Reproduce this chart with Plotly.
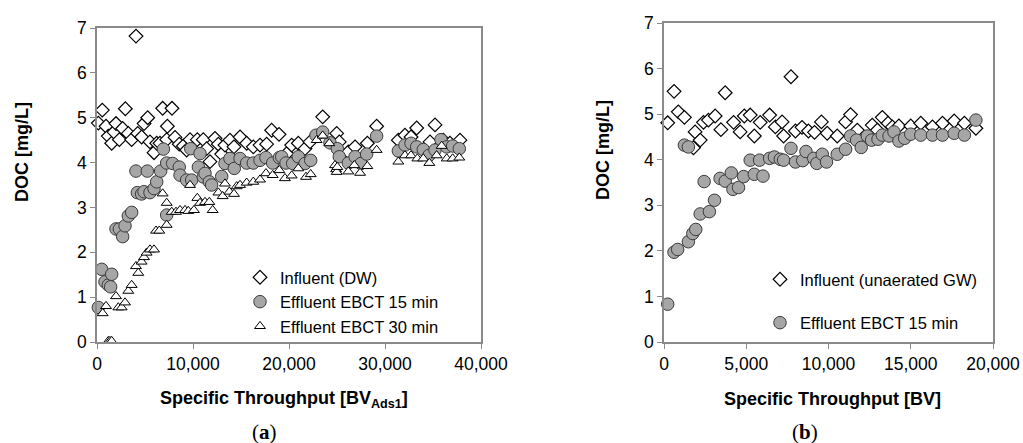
import plotly.graph_objects as go

W, H = 1023, 443

# ---------------- Panel (a) data ----------------
a_inf_x = [140, 550, 940, 1180, 1530, 1770, 1980, 2330, 2670, 2950, 3260, 3610, 4063, 4240, 4650,
           4900, 5280, 5520, 5940, 6220, 6560, 6840, 7260, 7330, 7810, 8130, 8570, 8990, 9340,
           9690, 10450, 11070, 11420, 11770, 12290, 12640, 12990, 13330, 13850, 14270, 14900,
           15590, 16280, 16980, 17670, 18190, 18960, 19760, 20280, 20970, 21670, 22190, 23510,
           24970, 25240, 26180, 26880, 28160, 29130, 31390, 32080, 32710, 33300, 34690, 35210,
           36080, 36770, 37810]
a_inf_y = [4.88, 5.17, 4.81, 4.59, 4.43, 4.68, 4.87, 4.51, 4.76, 5.2, 4.65, 4.51, 6.82, 4.65, 4.57,
           4.87, 5.0, 4.46, 4.22, 4.43, 4.43, 5.21, 4.51, 4.81, 5.21, 4.56, 4.41, 4.37, 4.28,
           4.51, 4.51, 4.51, 4.31, 4.02, 4.54, 4.41, 4.19, 4.39, 4.5, 4.35, 4.57,
           4.43, 4.35, 4.39, 4.41, 4.72, 4.63, 4.2, 4.39, 4.43, 4.31, 4.46, 5.02,
           4.65, 4.46, 4.24, 4.35, 4.43, 4.81, 4.5, 4.61, 4.57, 4.77, 4.46, 4.84,
           4.5, 4.43, 4.5]

a_e15_x = [140, 490, 830, 1180, 1420, 1530, 1980, 2330, 2670, 2920, 3260, 3610, 4060, 4200, 4650,
           4900, 5240, 5520, 5940, 6220, 6630, 6910, 7260, 7260, 7880, 8570, 8650, 9340, 9760,
           9860, 10560, 10730, 11070, 11250, 11700, 11940, 12990, 13330, 13850, 14300, 14900,
           15590, 16280, 16980, 17600, 18300, 18990, 19240, 19690, 20380, 20970, 21670, 22260,
           22810, 23510, 24270, 25030, 25240, 26180, 26880, 27500, 28090, 29130, 31390, 32080,
           32710, 33300, 33990, 34580, 35210, 35830, 36430, 37050, 37740]
a_e15_y = [0.77, 1.62, 1.34, 1.27, 1.23, 1.51, 2.52, 2.52, 2.35, 2.59, 2.81, 2.89, 3.81, 3.33, 3.3,
           3.35, 3.81, 3.33, 3.42, 3.57, 3.81, 4.3, 3.99, 2.83, 3.98, 3.9, 3.72, 3.61, 4.31,
           3.61, 3.9, 4.2, 3.68, 3.76, 3.57, 3.5, 3.69, 3.98, 4.09, 3.87, 4.09,
           3.99, 3.99, 4.05, 4.11, 3.99, 4.11, 4.13, 3.99, 3.98, 4.13, 3.98, 4.05,
           4.61, 4.68, 4.44, 4.31, 4.13, 3.99, 4.13, 3.98, 4.19, 4.59, 4.26, 4.39,
           4.43, 4.35, 4.29, 4.16, 4.28, 4.51, 4.35, 4.37, 4.31]

a_e30_x = [590, 940, 1180, 1350, 1530, 1980, 2220, 2570, 2920, 3260, 3610, 4060, 4300, 4650, 4900,
           5170, 5520, 5940, 6150, 6490, 6840, 7260, 7260, 7780, 8230, 8650, 9170, 9510, 9690,
           10100, 10450, 10730, 11250, 11700, 12050, 12640, 13090, 13330, 13790, 14270, 14550,
           14900, 15590, 16280, 16980, 17600, 18300, 18990, 19580, 20280, 20970, 21770, 22260,
           22880, 23510, 24200, 24790, 24900, 24970, 25030, 26180, 26800, 27400, 28160, 29130,
           31390, 32080, 32710, 33370, 33990, 34620, 35380, 35900, 36430, 37050, 37740]
a_e30_y = [0.64, 0.8, 0.02, 0.02, 0.02, 1.02, 0.77, 0.77, 0.88, 1.14, 1.27, 1.69, 1.54, 1.79, 1.89,
           1.99, 2.06, 2.06, 2.48, 2.48, 3.31, 3.1, 2.61, 2.9, 2.9, 2.94, 2.94, 2.92, 3.5,
           2.94, 3.21, 3.1, 3.12, 3.12, 2.94, 3.33, 3.25, 3.53, 3.35, 3.3, 3.47,
           3.5, 3.55, 3.57, 3.62, 3.76, 3.72, 3.83, 3.65, 3.71, 3.87, 3.68, 3.74,
           4.5, 4.6, 4.43, 3.94, 3.85, 3.79, 3.9, 3.8, 3.94, 3.77, 3.92, 4.28,
           4.02, 4.16, 4.16, 4.09, 4.09, 3.99, 4.16, 4.37, 4.09, 4.09, 4.11]

# ---------------- Panel (b) data ----------------
b_inf_x = [225, 610, 870, 1240, 1790, 1890, 2200, 2400, 2700, 3110, 3460, 3720, 4230, 4630, 4880,
           5240, 5490, 5850, 6420, 6770, 7180, 7270, 7720, 7990, 8390, 8780, 9150, 9570, 9920,
           10530, 11040, 11340, 11750, 12660, 12970, 13270, 13620, 13880, 14280, 15000, 15610,
           16320, 16930, 17640, 18260, 18960]
b_inf_y = [4.81, 5.5, 5.05, 4.93, 4.26, 4.61, 4.43, 4.82, 4.87, 4.96, 4.66, 5.47, 4.82, 4.61, 4.96,
           4.98, 4.52, 4.82, 4.98, 4.72, 4.83, 4.52, 5.82, 4.63, 4.71, 4.63, 4.6, 4.83, 4.58,
           4.52, 4.83, 4.99, 4.65, 4.76, 4.65, 4.93, 4.8, 4.72, 4.74, 4.74, 4.8,
           4.72, 4.8, 4.85, 4.8, 4.69]

b_e15_x = [225, 610, 830, 1240, 1480, 1480, 1750, 1930, 2200, 2440, 2760, 3070, 3410, 3720, 4090,
           4190, 4530, 4840, 5240, 5490, 5810, 6020, 6420, 6710, 7070, 7270, 7720, 7990, 8430,
           8630, 9100, 9290, 9620, 9880, 10530, 11040, 11340, 11710, 11990, 12360, 12620, 13010,
           13270, 13680, 13980, 14280, 14630, 15000, 15610, 16320, 16930, 17640, 18260, 18960]
b_e15_y = [0.83, 1.97, 2.03, 4.32, 4.28, 2.2, 2.38, 2.47, 2.81, 3.52, 2.86, 3.11, 3.59, 3.53, 3.71,
           3.35, 3.39, 3.63, 3.99, 3.68, 3.99, 3.64, 4.03, 4.06, 4.01, 3.99, 4.25, 3.95, 3.98,
           4.18, 4.03, 3.92, 4.12, 3.95, 4.12, 4.23, 4.52, 4.43, 4.27, 4.52, 4.43, 4.45,
           4.54, 4.52, 4.61, 4.41, 4.47, 4.56, 4.54, 4.54, 4.54, 4.58, 4.54, 4.87]

x_ticks_a = [0, 10000, 20000, 30000, 40000]
x_ticks_b = [0, 5000, 10000, 15000, 20000]
y_ticks = [0, 1, 2, 3, 4, 5, 6, 7]


def px(x):
    return x / W


def py(y):
    return 1 - y / H


FONT = "Liberation Sans, Arial, sans-serif"
AXC = "#8a8a8a"

diamond = dict(symbol="diamond", size=10.5, color="white", line=dict(color="black", width=1.2))
circle = dict(symbol="circle", size=12.5, color="#a6a6a6", line=dict(color="#3a3a3a", width=1))
triangle = dict(symbol="triangle-up", size=9.5, color="white", line=dict(color="black", width=1))

fig = go.Figure()
fig.add_trace(go.Scatter(x=a_inf_x, y=a_inf_y, mode="markers", name="Influent (DW)", marker=diamond,
                         xaxis="x", yaxis="y", legend="legend", cliponaxis=False))
fig.add_trace(go.Scatter(x=a_e15_x, y=a_e15_y, mode="markers", name="Effluent EBCT 15 min", marker=circle,
                         xaxis="x", yaxis="y", legend="legend", cliponaxis=False))
fig.add_trace(go.Scatter(x=a_e30_x, y=a_e30_y, mode="markers", name="Effluent EBCT 30 min", marker=triangle,
                         xaxis="x", yaxis="y", legend="legend", cliponaxis=False))
fig.add_trace(go.Scatter(x=b_inf_x, y=b_inf_y, mode="markers", name="Influent (unaerated GW)", marker=diamond,
                         xaxis="x2", yaxis="y2", legend="legend2", legendgroup="g1", cliponaxis=False))
fig.add_trace(go.Scatter(x=b_e15_x, y=b_e15_y, mode="markers", name="Effluent EBCT 15 min", marker=circle,
                         xaxis="x2", yaxis="y2", legend="legend2", legendgroup="g2", cliponaxis=False))

axis_common = dict(showline=True, linecolor=AXC, linewidth=1.5, mirror=True, ticks="outside",
                   ticklen=5, tickcolor=AXC, tickwidth=1, showgrid=False, zeroline=False,
                   tickfont=dict(family=FONT, size=17.5, color="#000"), automargin=False)

fig.update_layout(
    width=W, height=H, margin=dict(l=0, r=0, t=0, b=0),
    paper_bgcolor="white", plot_bgcolor="white",
    font=dict(family=FONT, color="#000"),
    xaxis=dict(domain=[px(97), px(481)], range=[0, 40000], tickvals=x_ticks_a,
               tickformat=",d", anchor="y", **axis_common),
    yaxis=dict(domain=[py(342), py(28)], range=[0, 7], tickvals=y_ticks, anchor="x", **axis_common),
    xaxis2=dict(domain=[px(664), px(993)], range=[0, 20000], tickvals=x_ticks_b,
                tickformat=",d", anchor="y2", **axis_common),
    yaxis2=dict(domain=[py(342), py(23)], range=[0, 7], tickvals=y_ticks, anchor="x2", **axis_common),
    legend=dict(x=px(240), y=py(260), xanchor="left", yanchor="top", bgcolor="rgba(0,0,0,0)",
                font=dict(family=FONT, size=16.5, color="#000"), itemwidth=30, tracegroupgap=0),
    legend2=dict(x=px(760), y=py(262), xanchor="left", yanchor="top", bgcolor="rgba(0,0,0,0)",
                 font=dict(family=FONT, size=16.5, color="#000"), itemwidth=30, tracegroupgap=19),
    showlegend=True,
)

annots = [
    dict(text="DOC [mg/L]", x=px(22), y=py(152), textangle=-90),
    dict(text="DOC [mg/L]", x=px(603), y=py(150), textangle=-90),
    dict(text="Specific Throughput [BV<sub>Ads1</sub>]", x=px(284), y=py(399)),
    dict(text="Specific Throughput [BV]", x=px(832), y=py(399)),
]
for a in annots:
    fig.add_annotation(xref="paper", yref="paper", showarrow=False, xanchor="center", yanchor="middle",
                       font=dict(family=FONT, size=18, color="#000"),
                       **{k: v for k, v in a.items() if k != "text"}, text="<b>" + a["text"] + "</b>")

for lab, xc in [("a", 264), ("b", 805)]:
    fig.add_annotation(xref="paper", yref="paper", showarrow=False, xanchor="center", yanchor="middle",
                       x=px(xc), y=py(432), text="(<b>" + lab + "</b>)",
                       font=dict(family="Liberation Serif, serif", size=21, color="#000"))

fig.write_html("out.html")
